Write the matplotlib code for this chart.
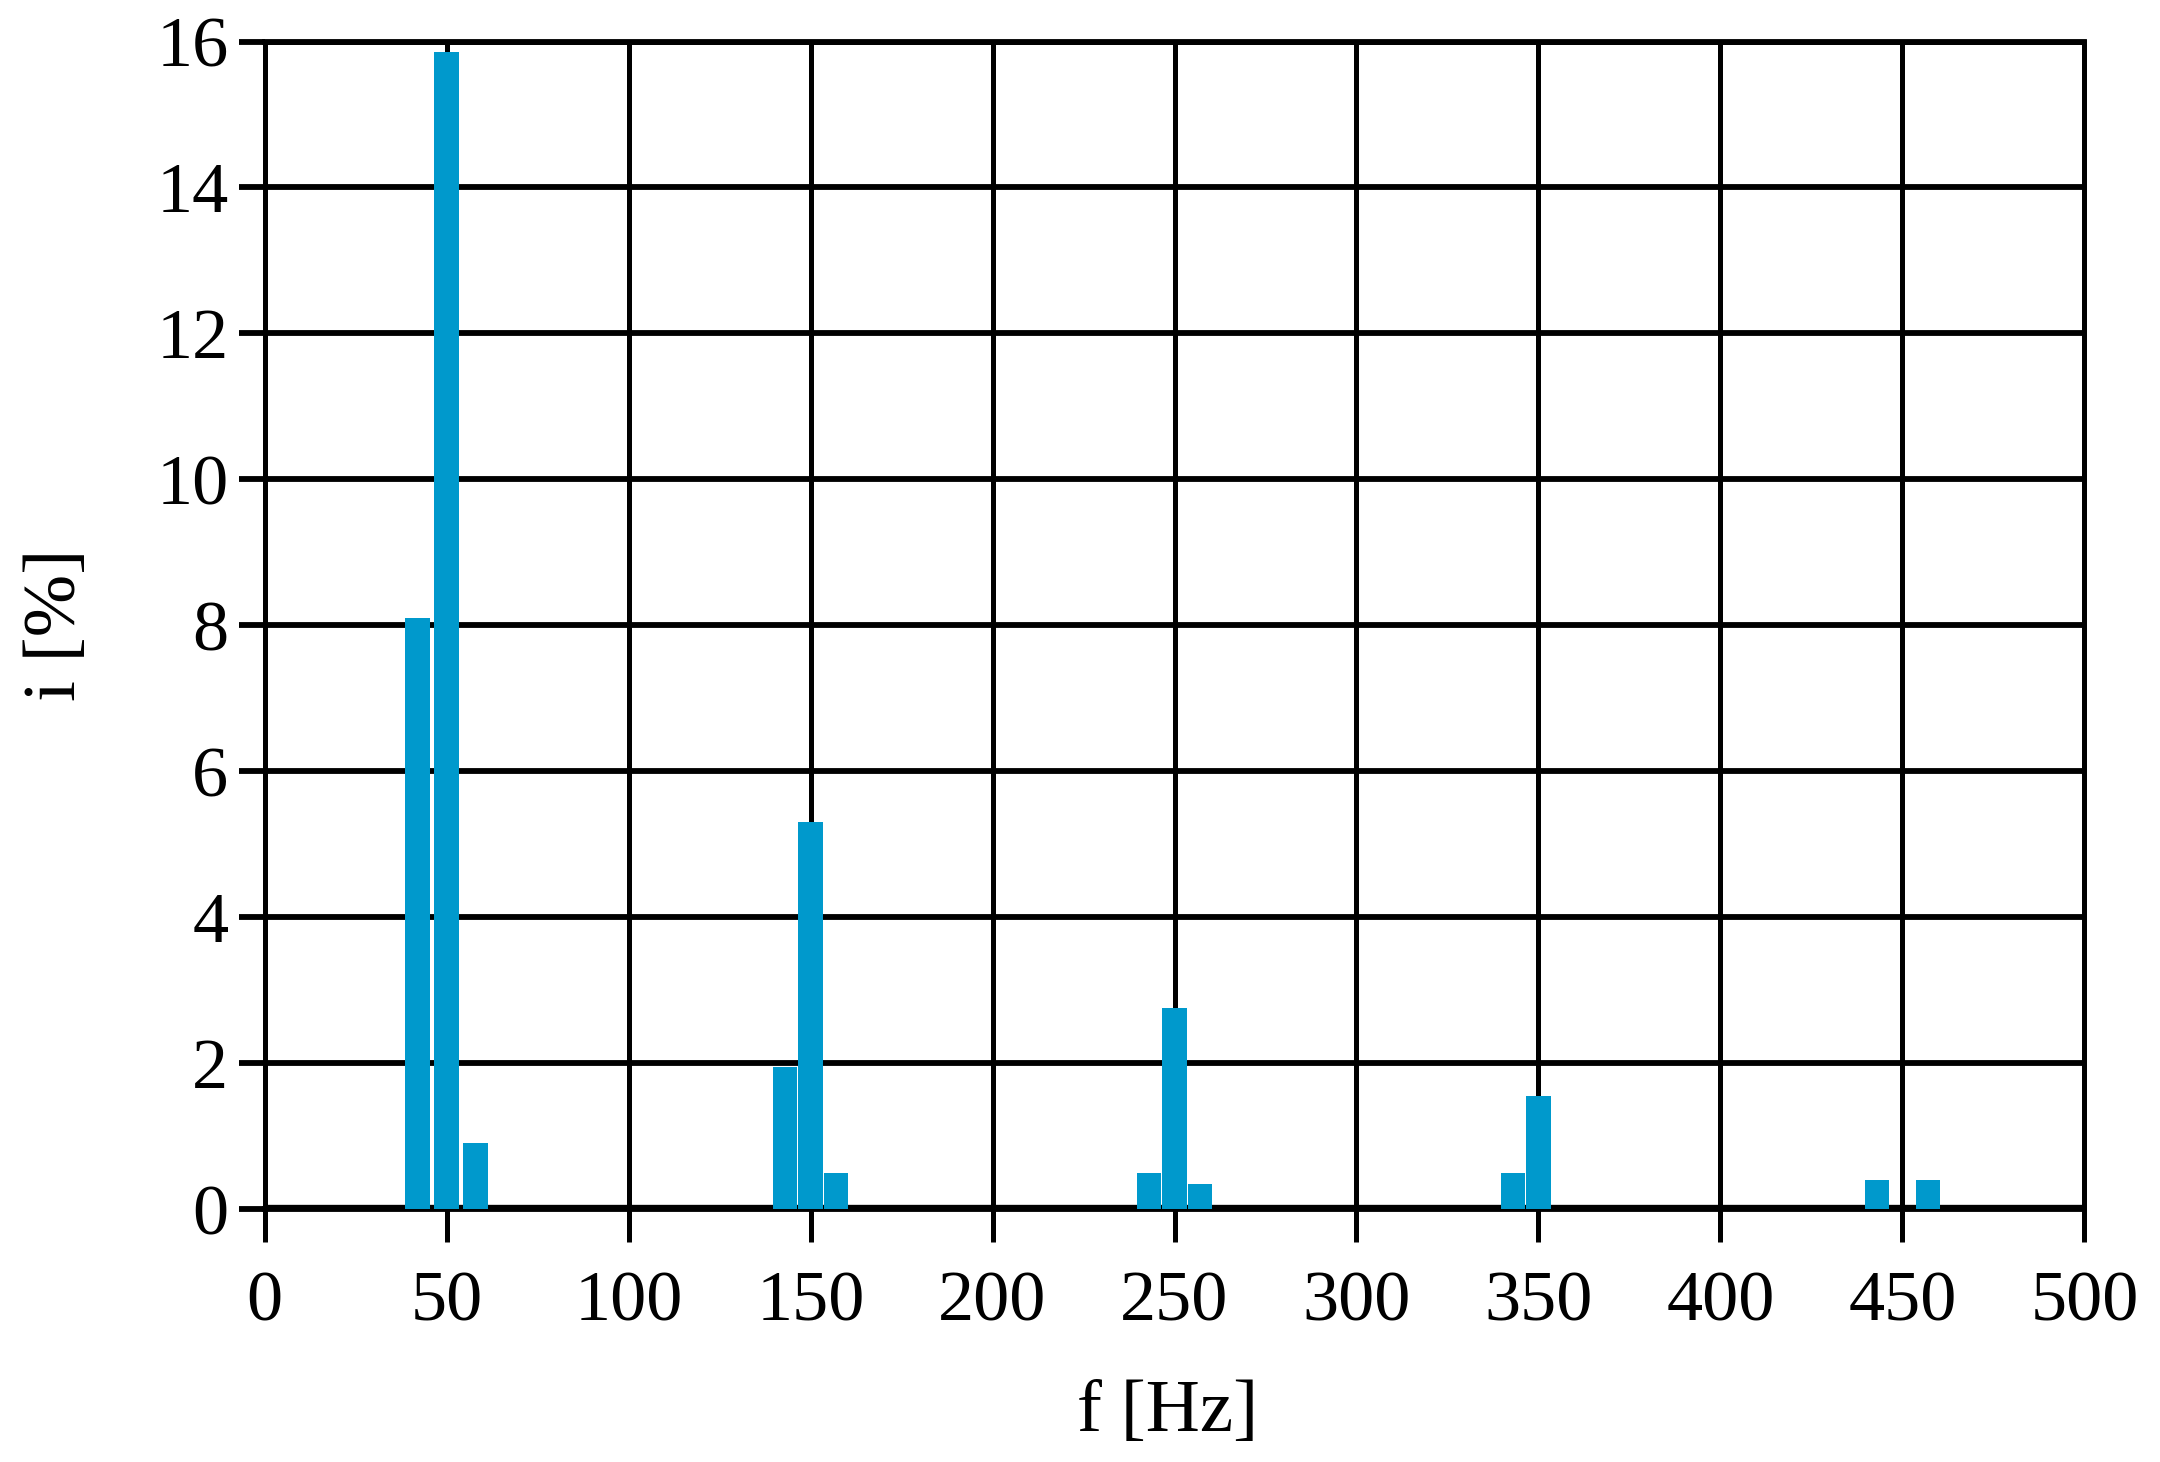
import matplotlib
matplotlib.use("Agg")
import matplotlib.pyplot as plt

# harmonic lines and their sidebands
freq_hz = [42, 50, 58, 143, 150, 157, 243, 250, 257, 343, 350, 443, 457]
current_pct = [8.1, 15.85, 0.9, 1.95, 5.3, 0.5, 0.5, 2.75, 0.35, 0.5, 1.55, 0.4, 0.4]

x_ticks = list(range(0, 501, 50))
y_ticks = list(range(0, 17, 2))

BAR_COLOR = "#0099cc"
LW_H = 4.2   # horizontal grid lines
LW_V = 3.6   # vertical grid lines

plt.rcParams["font.family"] = ["Liberation Serif", "DejaVu Serif"]

fig = plt.figure(figsize=(21.6, 14.62), dpi=100)
ax = fig.add_axes([0.1225, 0.173, 0.8425, 0.7986])

ax.bar(freq_hz, current_pct, width=6.8, color=BAR_COLOR, zorder=3)
ax.axhline(0, color="black", lw=6, zorder=2)

ax.set_xlim(0, 500)
ax.set_ylim(0, 16)
ax.set_xticks(x_ticks)
ax.set_yticks(y_ticks)

ax.xaxis.grid(True, color="black", lw=LW_V, zorder=1)
ax.yaxis.grid(True, color="black", lw=LW_H, zorder=1)
ax.set_axisbelow(True)
for side in ("left", "right"):
    ax.spines[side].set_linewidth(LW_V)
for side in ("top", "bottom"):
    ax.spines[side].set_linewidth(LW_H)

ax.tick_params(axis="x", direction="out", length=24, width=LW_V, pad=20, labelsize=52)
ax.tick_params(axis="y", direction="out", length=19, width=LW_H, pad=7, labelsize=52)

ax.set_xlabel("f [Hz]", fontsize=54)
ax.set_ylabel("i [%]", fontsize=54)
ax.xaxis.set_label_coords(0.496, -0.175)
ax.xaxis.label.set_va("center")
ax.yaxis.set_label_coords(-0.114, 0.5)
ax.yaxis.label.set_va("center")

fig.savefig("out.png", dpi=100)
